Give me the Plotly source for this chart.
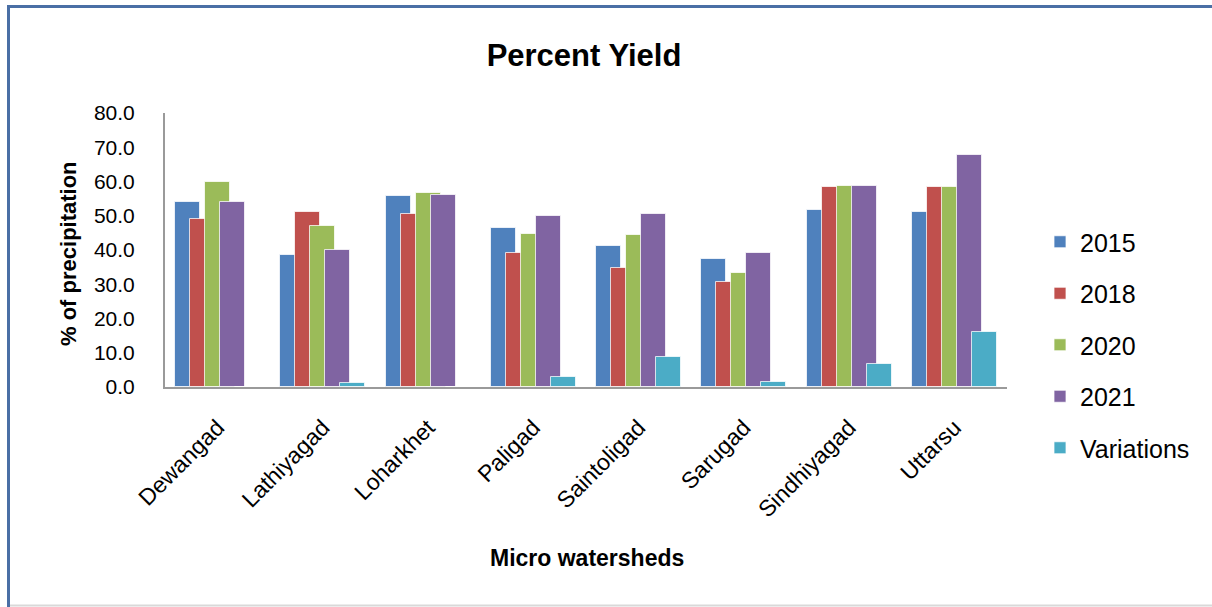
import plotly.graph_objects as go

categories = ["Dewangad", "Lathiyagad", "Loharkhet", "Paligad", "Saintoligad",
              "Sarugad", "Sindhiyagad", "Uttarsu"]
y2015 = [54.1, 38.6, 55.8, 46.4, 41.2, 37.5, 51.6, 51.0]
y2018 = [49.0, 51.0, 50.5, 39.0, 34.8, 30.8, 58.4, 58.4]
y2020 = [59.9, 46.9, 56.7, 44.8, 44.3, 33.4, 58.8, 58.4]
y2021 = [54.1, 40.1, 56.2, 50.0, 50.5, 39.0, 58.8, 67.6]
variations = [0.0, 1.1, 0.0, 3.0, 8.9, 1.6, 6.7, 16.1]

series_names = ["2015", "2018", "2020", "2021", "Variations"]
series_values = [y2015, y2018, y2020, y2021, variations]
colors = ["#4F81BD", "#C0504D", "#9BBB59", "#8064A2", "#4BACC6"]

FONT = "Liberation Sans"

# plot area in pixels
W, H = 1212, 607
L, R, T, B = 165, 1007, 113, 387

bar_w = 0.2375
step = 0.1425
start = -0.404

fig = go.Figure()
for i, (name, vals, col) in enumerate(zip(series_names, series_values, colors)):
    fig.add_trace(go.Bar(
        x=categories, y=vals, name=name,
        marker=dict(color=col, line=dict(color="rgba(255,255,255,0.75)", width=1)),
        width=bar_w, offset=start + i * step,
        legendgroup=name,
    ))

def px_x(p):
    return (p - L) / (R - L)

def px_y(p):
    return (B - p) / (B - T)

shapes = [
    dict(type="line", xref="paper", yref="paper", x0=px_x(7), x1=px_x(1212),
         y0=px_y(6.5), y1=px_y(6.5), line=dict(color="#4A6FA5", width=3)),
    dict(type="line", xref="paper", yref="paper", x0=px_x(8.5), x1=px_x(8.5),
         y0=px_y(5), y1=px_y(607), line=dict(color="#4A6FA5", width=3)),
    dict(type="line", xref="paper", yref="paper", x0=px_x(10), x1=px_x(1212),
         y0=px_y(605.5), y1=px_y(605.5), line=dict(color="#D9D9D9", width=2)),
]

annotations = [
    dict(text="<b>Micro watersheds</b>", xref="paper", yref="paper",
         x=px_x(587), y=px_y(558), showarrow=False,
         font=dict(family=FONT, size=23, color="#000000"),
         xanchor="center", yanchor="middle"),
    dict(text="<b>% of precipitation</b>", xref="paper", yref="paper",
         x=px_x(68), y=px_y(254), showarrow=False, textangle=-90,
         font=dict(family=FONT, size=22, color="#000000"),
         xanchor="center", yanchor="middle"),
]

fig.update_layout(
    width=W, height=H,
    barmode="overlay",
    bargap=0,
    paper_bgcolor="white", plot_bgcolor="white",
    margin=dict(l=L, r=W - R, t=T, b=H - B, autoexpand=False),
    title=dict(text="<b>Percent Yield</b>", x=584 / W, xref="container", xanchor="center",
               y=1 - 55 / H, yref="container", yanchor="middle",
               font=dict(family=FONT, size=31, color="#000000")),
    font=dict(family=FONT, color="#000000"),
    legend=dict(x=px_x(1040), xanchor="left", y=px_y(345), yanchor="middle",
                font=dict(family=FONT, size=25, color="#000000"),
                tracegroupgap=16, bgcolor="rgba(0,0,0,0)"),
    shapes=shapes,
    annotations=annotations,
    xaxis=dict(
        type="category", range=[-0.5, 7.5],
        showline=True, linecolor="#9A9A9A", linewidth=2,
        ticks="", tickangle=-45, ticklabelstandoff=16,
        tickfont=dict(family=FONT, size=23, color="#000000"),
        showgrid=False, zeroline=False, automargin=False,
    ),
    yaxis=dict(
        range=[0, 80], dtick=10, tick0=0, tickformat=".1f",
        showline=True, linecolor="#9A9A9A", linewidth=2,
        ticks="", ticklabelstandoff=24,
        tickfont=dict(family=FONT, size=21, color="#000000"),
        showgrid=False, zeroline=False, automargin=False,
    ),
)

fig.write_html("out.html")
